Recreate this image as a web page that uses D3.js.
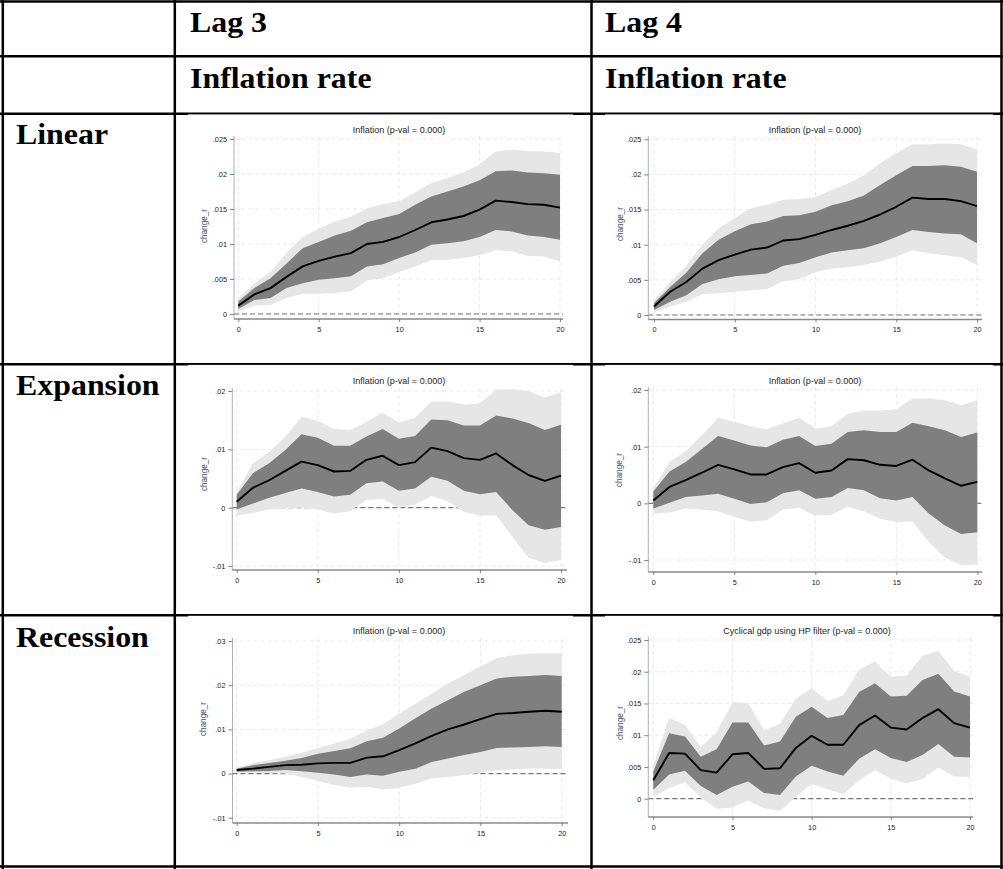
<!DOCTYPE html>
<html>
<head>
<meta charset="utf-8">
<script src="https://cdn.jsdelivr.net/npm/d3@7"></script>
<style>
  html, body { margin: 0; padding: 0; background: #fff; }
  svg { display: block; }
</style>
</head>
<body>
<svg id="fig" width="1003" height="869"></svg>
<script>
// ---- table text ----
const columnHeads = ["Lag 3", "Lag 4"];
const variableHeads = ["Inflation rate", "Inflation rate"];
const rowHeads = ["Linear", "Expansion", "Recession"];

// ---- impulse-response horizons ----
const horizons = [0,1,2,3,4,5,6,7,8,9,10,11,12,13,14,15,16,17,18,19,20];
const xTicks = [0, 5, 10, 15, 20];

// ---- panel titles ----
const panelTitles = [
  "Inflation (p-val = 0.000)", "Inflation (p-val = 0.000)",
  "Inflation (p-val = 0.000)", "Inflation (p-val = 0.000)",
  "Inflation (p-val = 0.000)", "Cyclical gdp using HP filter (p-val = 0.000)"
];
const yAxisTitle = "change_r";

// ---- y tick values per panel ----
const yTicksLag3Linear = [0, .005, .01, .015, .02, .025];
const yTicksLag4Linear = [0, .005, .01, .015, .02, .025];
const yTicksLag3Expansion = [-.01, 0, .01, .02];
const yTicksLag4Expansion = [-.01, 0, .01, .02];
const yTicksLag3Recession = [-.01, 0, .01, .02, .03];
const yTicksLag4Recession = [0, .005, .01, .015, .02, .025];

// ---- Lag 3, linear ----
const lag3LinearIrf  = [.0012,.0028,.0037,.0053,.0068,.0076,.0082,.0087,.0100,.0103,.0110,.0120,.0131,.0135,.0140,.0149,.0162,.0160,.0157,.0156,.0152];
const lag3LinearLo68 = [.0007,.0020,.0023,.0037,.0044,.0049,.0051,.0054,.0068,.0071,.0080,.0088,.0099,.0101,.0104,.0110,.0120,.0118,.0112,.0110,.0106];
const lag3LinearHi68 = [.0018,.0037,.0051,.0072,.0094,.0103,.0112,.0119,.0131,.0137,.0143,.0156,.0168,.0175,.0182,.0191,.0204,.0205,.0202,.0201,.0199];
const lag3LinearLo95 = [.0003,.0012,.0013,.0023,.0029,.0029,.0030,.0032,.0048,.0051,.0060,.0068,.0077,.0077,.0080,.0084,.0091,.0090,.0083,.0082,.0075];
const lag3LinearHi95 = [.0022,.0044,.0060,.0087,.0110,.0122,.0132,.0139,.0151,.0157,.0161,.0174,.0187,.0194,.0202,.0214,.0232,.0235,.0233,.0232,.0230];

// ---- Lag 4, linear ----
const lag4LinearIrf  = [.0012,.0033,.0047,.0066,.0078,.0086,.0093,.0096,.0106,.0108,.0114,.0121,.0127,.0134,.0143,.0154,.0167,.0165,.0165,.0162,.0155];
const lag4LinearLo68 = [.0007,.0019,.0028,.0044,.0051,.0055,.0057,.0059,.0070,.0074,.0082,.0089,.0092,.0095,.0102,.0111,.0121,.0118,.0116,.0115,.0102];
const lag4LinearHi68 = [.0017,.0040,.0060,.0088,.0107,.0119,.0129,.0133,.0141,.0142,.0147,.0156,.0162,.0170,.0185,.0199,.0212,.0212,.0213,.0211,.0204];
const lag4LinearLo95 = [.0004,.0012,.0019,.0030,.0031,.0033,.0035,.0037,.0048,.0051,.0061,.0066,.0068,.0071,.0076,.0083,.0092,.0088,.0085,.0082,.0071];
const lag4LinearHi95 = [.0021,.0047,.0070,.0100,.0123,.0138,.0152,.0157,.0164,.0165,.0168,.0178,.0187,.0199,.0216,.0230,.0243,.0243,.0244,.0243,.0236];

// ---- Lag 3, expansion ----
const lag3ExpansionIrf  = [.0010,.0034,.0047,.0063,.0079,.0073,.0062,.0063,.0082,.0089,.0073,.0078,.0103,.0097,.0085,.0082,.0093,.0073,.0056,.0046,.0055];
const lag3ExpansionLo68 = [-.0003,.0007,.0017,.0025,.0033,.0027,.0019,.0022,.0042,.0045,.0029,.0033,.0053,.0046,.0029,.0023,.0027,-.0004,-.0030,-.0038,-.0033];
const lag3ExpansionHi68 = [.0022,.0059,.0076,.0099,.0126,.0120,.0106,.0106,.0122,.0135,.0118,.0123,.0151,.0150,.0141,.0141,.0158,.0153,.0145,.0133,.0142];
const lag3ExpansionLo95 = [-.0013,-.0009,-.0003,-.0001,.0000,-.0003,-.0010,-.0006,.0013,.0015,.0000,.0005,.0020,.0011,-.0007,-.0014,-.0013,-.0050,-.0086,-.0095,-.0090];
const lag3ExpansionHi95 = [.0026,.0076,.0095,.0122,.0156,.0149,.0135,.0133,.0147,.0163,.0146,.0154,.0182,.0182,.0177,.0179,.0202,.0203,.0200,.0189,.0198];

// ---- Lag 4, expansion ----
const lag4ExpansionIrf  = [.0005,.0029,.0041,.0054,.0068,.0060,.0051,.0051,.0064,.0071,.0054,.0058,.0078,.0076,.0068,.0066,.0077,.0058,.0044,.0031,.0038];
const lag4ExpansionLo68 = [-.0009,.0001,.0011,.0014,.0017,.0008,-.0001,.0002,.0018,.0023,.0008,.0011,.0027,.0023,.0009,.0005,.0011,-.0018,-.0039,-.0054,-.0051];
const lag4ExpansionHi68 = [.0021,.0056,.0073,.0096,.0119,.0111,.0102,.0099,.0112,.0119,.0101,.0105,.0126,.0129,.0126,.0126,.0142,.0136,.0129,.0117,.0125];
const lag4ExpansionLo95 = [-.0018,-.0016,-.0009,-.0011,-.0014,-.0024,-.0032,-.0030,-.0011,-.0008,-.0022,-.0020,-.0006,-.0014,-.0027,-.0033,-.0032,-.0068,-.0096,-.0109,-.0108];
const lag4ExpansionHi95 = [.0027,.0073,.0092,.0120,.0151,.0144,.0136,.0131,.0141,.0151,.0132,.0136,.0158,.0164,.0164,.0166,.0185,.0185,.0182,.0173,.0182];

// ---- Lag 3, recession ----
const lag3RecessionIrf  = [.0008,.0011,.0015,.0019,.0020,.0023,.0024,.0024,.0036,.0039,.0053,.0068,.0085,.0100,.0111,.0123,.0135,.0137,.0140,.0142,.0140];
const lag3RecessionLo68 = [.0004,.0005,.0006,.0008,.0005,.0002,-.0002,-.0008,-.0002,-.0005,.0004,.0011,.0026,.0034,.0042,.0049,.0058,.0059,.0060,.0062,.0060];
const lag3RecessionHi68 = [.0011,.0019,.0024,.0029,.0035,.0045,.0051,.0057,.0073,.0081,.0102,.0125,.0147,.0166,.0185,.0200,.0215,.0219,.0221,.0223,.0221];
const lag3RecessionLo95 = [.0003,.0002,.0001,.0000,-.0008,-.0017,-.0026,-.0032,-.0030,-.0036,-.0032,-.0023,-.0011,-.0008,-.0004,.0002,.0007,.0009,.0011,.0011,.0010];
const lag3RecessionHi95 = [.0013,.0024,.0030,.0038,.0047,.0058,.0068,.0079,.0098,.0111,.0136,.0158,.0181,.0204,.0223,.0242,.0262,.0268,.0271,.0272,.0272];

// ---- Lag 4, recession (cyclical gdp, HP filter) ----
const lag4RecessionIrf  = [.0029,.0072,.0071,.0045,.0041,.0070,.0072,.0047,.0048,.0080,.0099,.0085,.0085,.0116,.0131,.0112,.0109,.0127,.0141,.0119,.0112];
const lag4RecessionLo68 = [.0014,.0038,.0044,.0020,.0006,.0019,.0027,.0009,.0006,.0035,.0052,.0043,.0036,.0063,.0078,.0064,.0058,.0069,.0086,.0066,.0065];
const lag4RecessionHi68 = [.0043,.0103,.0098,.0066,.0078,.0120,.0120,.0084,.0090,.0129,.0145,.0127,.0132,.0168,.0182,.0161,.0162,.0187,.0197,.0169,.0161];
const lag4RecessionLo95 = [.0003,.0017,.0026,.0002,-.0016,-.0014,-.0003,-.0015,-.0019,.0003,.0023,.0015,.0007,.0029,.0045,.0032,.0024,.0031,.0049,.0035,.0034];
const lag4RecessionHi95 = [.0052,.0127,.0116,.0081,.0105,.0152,.0150,.0108,.0118,.0158,.0174,.0154,.0163,.0203,.0216,.0192,.0194,.0225,.0233,.0201,.0192];

// ---- assemble panels from the arrays above ----
const panelData = [
  { yTicks: yTicksLag3Linear, irf: lag3LinearIrf, lo68: lag3LinearLo68, hi68: lag3LinearHi68, lo95: lag3LinearLo95, hi95: lag3LinearHi95 },
  { yTicks: yTicksLag4Linear, irf: lag4LinearIrf, lo68: lag4LinearLo68, hi68: lag4LinearHi68, lo95: lag4LinearLo95, hi95: lag4LinearHi95 },
  { yTicks: yTicksLag3Expansion, irf: lag3ExpansionIrf, lo68: lag3ExpansionLo68, hi68: lag3ExpansionHi68, lo95: lag3ExpansionLo95, hi95: lag3ExpansionHi95 },
  { yTicks: yTicksLag4Expansion, irf: lag4ExpansionIrf, lo68: lag4ExpansionLo68, hi68: lag4ExpansionHi68, lo95: lag4ExpansionLo95, hi95: lag4ExpansionHi95 },
  { yTicks: yTicksLag3Recession, irf: lag3RecessionIrf, lo68: lag3RecessionLo68, hi68: lag3RecessionHi68, lo95: lag3RecessionLo95, hi95: lag3RecessionHi95 },
  { yTicks: yTicksLag4Recession, irf: lag4RecessionIrf, lo68: lag4RecessionLo68, hi68: lag4RecessionHi68, lo95: lag4RecessionLo95, hi95: lag4RecessionHi95 }
];

// ---- geometry of each panel (pixels) ----
const panelLayout = [
  { x0: 238.3, x20: 560.0, yMin: 314.0, yMax: 139.0, axisX: 234.0, axisY: 319.0, top: 136, right: 563, titleX: 399, titleY: 133, ytX: 207, ytY: 226 },
  { x0: 654.0, x20: 977.0, yMin: 315.0, yMax: 139.3, axisX: 648.3, axisY: 319.5, top: 136, right: 982, titleX: 815, titleY: 133, ytX: 623, ytY: 224 },
  { x0: 236.7, x20: 561.0, yMin: 566.0, yMax: 391.0, axisX: 232.3, axisY: 570.0, top: 388, right: 567, titleX: 399, titleY: 383.5, ytX: 207, ytY: 474 },
  { x0: 653.3, x20: 977.3, yMin: 560.0, yMax: 390.0, axisX: 648.3, axisY: 572.0, top: 387, right: 982, titleX: 815, titleY: 383.5, ytX: 622, ytY: 470 },
  { x0: 236.7, x20: 561.7, yMin: 817.7, yMax: 641.0, axisX: 232.5, axisY: 823.0, top: 638, right: 568, titleX: 399, titleY: 633.5, ytX: 206, ytY: 719 },
  { x0: 653.3, x20: 970.0, yMin: 798.7, yMax: 640.0, axisX: 648.3, axisY: 817.0, top: 637, right: 973, titleX: 807, titleY: 633.5, ytX: 623, ytY: 723 }
];

const svg = d3.select("#fig");
svg.append("rect").attr("width", 1003).attr("height", 869).attr("fill", "#fff");

// ---- table rules ----
const hRules = [1.5, 56.2, 113.8, 364.3, 615.2, 866.5];
const vRules = [2.8, 174.8, 591.5, 1001.5];
const rules = svg.append("g").attr("stroke", "#000").attr("stroke-width", 2.5);
hRules.forEach(yy => rules.append("line").attr("x1", 0).attr("x2", 1003).attr("y1", yy).attr("y2", yy));
vRules.forEach(xx => rules.append("line").attr("x1", xx).attr("x2", xx).attr("y1", 0).attr("y2", 869));

// ---- table headings (bold serif, slightly widened) ----
function heading(x, y, txt) {
  svg.append("g").attr("transform", `translate(${x},${y}) scale(1.1,1)`)
    .append("text").attr("x", 0).attr("y", 0)
    .attr("font-family", "'Liberation Serif', 'Times New Roman', serif")
    .attr("font-weight", "bold").attr("font-size", 29).attr("fill", "#000")
    .text(txt);
}
heading(190, 32, columnHeads[0]);
heading(605, 32, columnHeads[1]);
heading(190, 87.5, variableHeads[0]);
heading(605, 87.5, variableHeads[1]);
heading(16, 144, rowHeads[0]);
heading(16, 395, rowHeads[1]);
heading(16, 647, rowHeads[2]);

// ---- graph canvases sitting on the table cells ----
const canvasCols = [[188, 573], [605, 993]];
const canvasRows = [[114.4, 362], [364.9, 613], [615.8, 864]];
canvasRows.forEach(r => canvasCols.forEach(c => {
  svg.append("rect").attr("x", c[0]).attr("y", r[0])
    .attr("width", c[1] - c[0]).attr("height", r[1] - r[0]).attr("fill", "#fff");
}));

// Stata-style tick labels: .025, -.01, 0
const stataFmt = v => v === 0 ? "0" : String(+v.toFixed(4)).replace(/^(-?)0\./, "$1.");

function drawPanel(idx) {
  const d = panelData[idx];
  const L = panelLayout[idx];
  const g = svg.append("g");
  const yT = d.yTicks;

  const x = d3.scaleLinear().domain([0, 20]).range([L.x0, L.x20]);
  const y = d3.scaleLinear().domain([yT[0], yT[yT.length - 1]]).range([L.yMin, L.yMax]);

  // grid
  const grid = g.append("g").attr("stroke", "#e4e4e4").attr("stroke-width", 0.8)
    .attr("stroke-dasharray", "4,3");
  yT.forEach(t => grid.append("line").attr("x1", L.axisX).attr("x2", L.right)
    .attr("y1", y(t)).attr("y2", y(t)));
  xTicks.forEach(t => grid.append("line").attr("x1", x(t)).attr("x2", x(t))
    .attr("y1", L.top).attr("y2", L.axisY));

  // zero reference line (behind the bands)
  g.append("line").attr("x1", L.axisX).attr("x2", L.right)
    .attr("y1", y(0)).attr("y2", y(0))
    .attr("stroke", "#777").attr("stroke-width", 1.2).attr("stroke-dasharray", "5,3");

  const idxs = horizons.map((h, i) => i);
  const band = (lo, hi) => d3.area()
    .x(i => x(horizons[i])).y0(i => y(lo[i])).y1(i => y(hi[i]));

  g.append("path").attr("d", band(d.lo95, d.hi95)(idxs)).attr("fill", "#e6e6e6");
  g.append("path").attr("d", band(d.lo68, d.hi68)(idxs)).attr("fill", "#7f7f7f");
  g.append("path")
    .attr("d", d3.line().x(i => x(horizons[i])).y(i => y(d.irf[i]))(idxs))
    .attr("fill", "none").attr("stroke", "#000").attr("stroke-width", 1.9)
    .attr("stroke-linejoin", "round");

  // axis lines
  g.append("line").attr("x1", L.axisX).attr("x2", L.axisX).attr("y1", L.top).attr("y2", L.axisY)
    .attr("stroke", "#b0b0b0").attr("stroke-width", 1);
  g.append("line").attr("x1", L.axisX).attr("x2", L.right).attr("y1", L.axisY).attr("y2", L.axisY)
    .attr("stroke", "#8a8a8a").attr("stroke-width", 1.3);

  // y axis ticks & labels
  const ya = g.append("g").attr("transform", `translate(${L.axisX},0)`)
    .call(d3.axisLeft(y).tickValues(yT).tickFormat(stataFmt).tickSize(4).tickPadding(3));
  // x axis ticks & labels
  const xa = g.append("g").attr("transform", `translate(0,${L.axisY})`)
    .call(d3.axisBottom(x).tickValues(xTicks).tickFormat(d3.format("d")).tickSize(3).tickPadding(4.5));
  [ya, xa].forEach(a => {
    a.select(".domain").remove();
    a.selectAll(".tick line").attr("stroke", "#666").attr("stroke-width", 0.8);
    a.selectAll(".tick text").attr("fill", "#222")
      .attr("font-family", "'Liberation Sans', Arial, sans-serif").attr("font-size", 7.3);
  });

  // title
  g.append("text").attr("x", L.titleX).attr("y", L.titleY).attr("text-anchor", "middle")
    .attr("font-family", "'Liberation Sans', Arial, sans-serif").attr("font-size", 9)
    .attr("fill", "#1e1e1e").text(panelTitles[idx]);

  // y axis title
  g.append("text").attr("transform", `translate(${L.ytX},${L.ytY}) rotate(-90)`)
    .attr("text-anchor", "middle")
    .attr("font-family", "'Liberation Sans', Arial, sans-serif").attr("font-size", 8.2)
    .attr("fill", "#3d4b6b").text(yAxisTitle);
}

panelData.forEach((_, i) => drawPanel(i));
</script>
</body>
</html>
